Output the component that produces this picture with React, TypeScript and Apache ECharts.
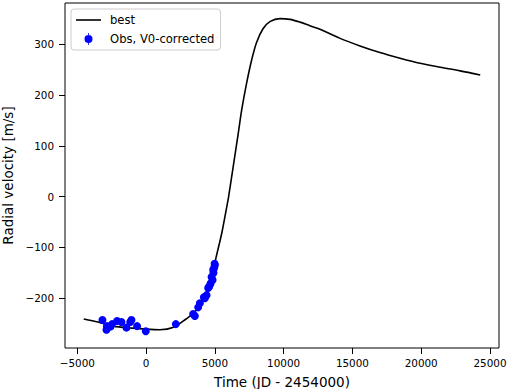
import React, { useEffect, useRef } from "react";
import * as echarts from "echarts";

const obsTime = [-3173, -2882, -2850, -2591, -2475, -2110, -1790, -1427, -1150, -1063, -655, -22, 2162, 3421, 3545, 3785, 3908, 4199, 4272, 4396, 4513, 4585, 4687, 4760, 4833, 4876, 4900, 4950, 4980, 5000];
const obsRv = [-243, -262, -255, -256, -251, -245, -247, -258, -247, -243, -255, -265, -251, -231, -235, -218, -210, -198, -200, -194, -180, -177, -171, -158, -164, -144, -150, -140, -132, -135];

const fitTime = [-4534, -3500, -2400, -1000, 0, 1000, 2000, 2900, 3400, 3800, 4150, 4500, 4880, 5100, 5500, 5850, 6000, 6330, 6700, 6950, 7300, 7670, 8030, 8500, 9000, 9730, 10460, 11190, 11900, 12640, 14100, 15550, 17000, 18460, 19920, 21380, 22830, 24290];
const fitRv = [-241, -247, -255, -259, -261, -262, -257, -241, -231, -218, -200, -180, -144, -118, -72, -22, 0, 59, 125, 171, 223, 269, 304, 331, 345, 351, 349.5, 344, 337, 330, 312, 297, 284, 273, 263, 255, 248, 240];

const xTicks = [-5000, 0, 5000, 10000, 15000, 20000, 25000];
const yTicks = [-200, -100, 0, 100, 200, 300];

const FONT = "DejaVu Sans";

export default function App() {
  const ref = useRef<HTMLDivElement>(null);
  useEffect(() => {
    if (!ref.current) return;
    const chart = echarts.init(ref.current, null, { renderer: "svg" });
    chart.setOption({
      animation: false,
      backgroundColor: "#fff",
      grid: {
        left: 65, right: 11, top: 3, bottom: 41,
        containLabel: false,
        outerBoundsMode: "none",
        show: true, borderColor: "#000", borderWidth: 1, backgroundColor: "transparent",
      },
      legend: {
        left: 71,
        top: 9,
        orient: "vertical",
        itemWidth: 25,
        itemHeight: 12,
        itemGap: 7,
        padding: [5, 6, 5, 5],
        backgroundColor: "#fff",
        borderColor: "#cccccc",
        borderWidth: 1,
        borderRadius: 3,
        textStyle: { fontFamily: FONT, fontSize: 11.6, color: "#000", padding: [0, 0, 0, 4] },
        data: [
          { name: "best", icon: "path://M0,0 L25,0 L25,1.6 L0,1.6 Z" },
          { name: "Obs, V0-corrected", icon: "path://M4,2 A4,4 0 1,1 4,10 A4,4 0 1,1 4,2 Z M3.6,0 L4.4,0 L4.4,12 L3.6,12 Z" },
        ],
      },
      xAxis: {
        type: "value",
        min: -5895,
        max: 25655,
        minInterval: 5000,
        maxInterval: 5000,
        name: "Time (JD - 2454000)",
        nameLocation: "middle",
        nameGap: 27,
        nameTextStyle: { fontFamily: FONT, fontSize: 13.5, color: "#000" },
        axisLine: { show: false, onZero: false },
        axisTick: { show: true, length: 6, inside: false, customValues: xTicks, lineStyle: { color: "#000", width: 1 } },
        axisLabel: {
          customValues: xTicks,
          fontFamily: FONT,
          fontSize: 10.4,
          color: "#000",
          margin: 10,
          formatter: (v: number) => (v < 0 ? "\u2212" + Math.abs(v) : String(v)),
        },
        splitLine: { show: false },
      },
      yAxis: {
        type: "value",
        min: -298.1,
        max: 381.7,
        minInterval: 100,
        maxInterval: 100,
        name: "Radial velocity [m/s]",
        nameLocation: "middle",
        nameGap: 48,
        nameTextStyle: { fontFamily: FONT, fontSize: 13.5, color: "#000" },
        axisLine: { show: false, onZero: false },
        axisTick: { show: true, length: 6, inside: false, customValues: yTicks, lineStyle: { color: "#000", width: 1 } },
        axisLabel: {
          customValues: yTicks,
          fontFamily: FONT,
          fontSize: 10.4,
          color: "#000",
          margin: 11,
          formatter: (v: number) => (v < 0 ? "\u2212" + Math.abs(v) : String(v)),
        },
        splitLine: { show: false },
      },
      series: [
        {
          name: "best",
          type: "line",
          data: fitTime.map((t, i) => [t, fitRv[i]]),
          symbol: "none",
          smooth: 0.3,
          lineStyle: { color: "#000", width: 1.6 },
          itemStyle: { color: "#000" },
          z: 2,
        },
        {
          name: "Obs, V0-corrected",
          type: "scatter",
          data: obsTime.map((t, i) => [t, obsRv[i]]),
          symbol: "circle",
          symbolSize: 8,
          itemStyle: { color: "#0000ff", opacity: 1 },
          z: 3,
        },
      ],
    });
    return () => chart.dispose();
  }, []);
  return <div ref={ref} style={{ width: 510, height: 389, position: "absolute", left: 0, top: 0 }} />;
}
